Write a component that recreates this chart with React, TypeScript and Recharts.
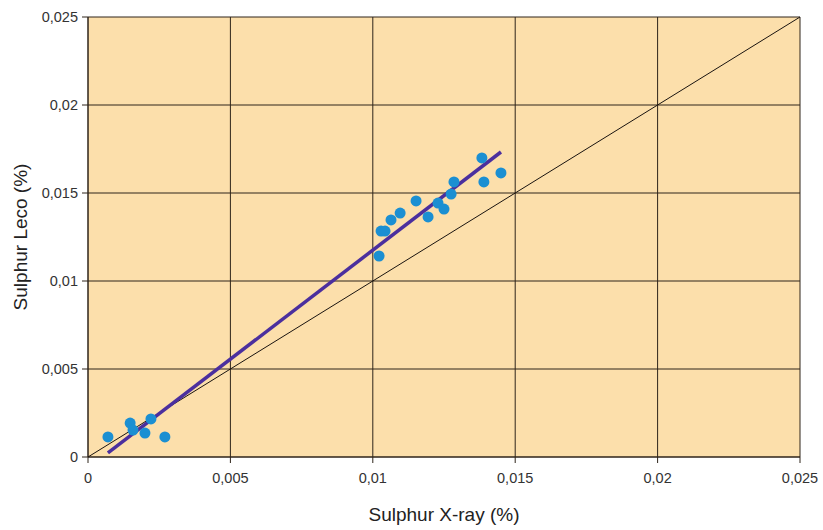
import { CartesianGrid, ComposedChart, Scatter, XAxis, YAxis, Label } from 'recharts'

// Sulphur: X-ray vs Leco (%)
const xray = [0.0007, 0.00148, 0.00158, 0.002, 0.00221, 0.0027,
  0.01022, 0.01029, 0.01043, 0.01064, 0.01096, 0.01152, 0.01194, 0.01229, 0.0125, 0.01275, 0.01285, 0.01383, 0.0139, 0.0145]
const leco = [0.00114, 0.00193, 0.00153, 0.00136, 0.00216, 0.00114,
  0.01142, 0.01284, 0.01284, 0.01347, 0.01386, 0.01455, 0.01364, 0.01443, 0.01409, 0.01494, 0.01563, 0.01699, 0.01563, 0.01614]

// regression line (end points) and 1:1 line
const fitX = [0.0007, 0.0145]
const fitY = [0.00023, 0.01733]
const identX = [0, 0.025]
const identY = [0, 0.025]

const ticks = [0, 0.005, 0.01, 0.015, 0.02, 0.025]
const fmt = (v: number) => (v === 0 ? '0' : String(v).replace('.', ','))

const points = xray.map((x, i) => ({ x, y: leco[i] }))
const fit = fitX.map((x, i) => ({ x, y: fitY[i] }))
const ident = identX.map((x, i) => ({ x, y: identY[i] }))

const GRID = '#2e241a'
const FONT = 'Liberation Sans, Arial, sans-serif'
const noDot = () => <g />

export default function App() {
  return (
    <div style={{ position: 'absolute', left: 0, top: 0, width: 823, height: 530, background: '#fff' }}>
      <ComposedChart width={823} height={530} margin={{ top: 17, right: 23, left: 0, bottom: 13 }}>
        <CartesianGrid fill="#fcdfab" fillOpacity={1} stroke={GRID} strokeWidth={1} horizontalValues={ticks} verticalValues={ticks} />
        <XAxis type="number" dataKey="x" domain={[0, 0.025]} ticks={ticks} tickFormatter={fmt} height={60}
          stroke={GRID} tick={{ fill: '#333', fontSize: 14.5, fontFamily: FONT }} tickSize={6} tickMargin={10}>
          <Label value="Sulphur X-ray (%)" position="insideBottom" offset={-4} style={{ fill: '#222', fontSize: 19, fontFamily: FONT }} />
        </XAxis>
        <YAxis type="number" dataKey="y" domain={[0, 0.025]} ticks={ticks} tickFormatter={fmt} width={88}
          stroke={GRID} tick={{ fill: '#333', fontSize: 14.5, fontFamily: FONT }} tickSize={6} tickMargin={4}>
          <Label value="Sulphur Leco (%)" angle={-90} position="insideLeft" offset={20} style={{ textAnchor: 'middle', fill: '#222', fontSize: 19, fontFamily: FONT }} />
        </YAxis>
        <Scatter data={ident} line={{ stroke: '#1a1410', strokeWidth: 1 }} shape={noDot} isAnimationActive={false} />
        <Scatter data={fit} line={{ stroke: '#4b2f9e', strokeWidth: 3.5 }} shape={noDot} isAnimationActive={false} />
        <Scatter data={points} fill="#1b8fd2" shape={(p: any) => <circle cx={p.cx} cy={p.cy} r={5.5} fill="#1b8fd2" />} isAnimationActive={false} />
      </ComposedChart>
    </div>
  )
}
